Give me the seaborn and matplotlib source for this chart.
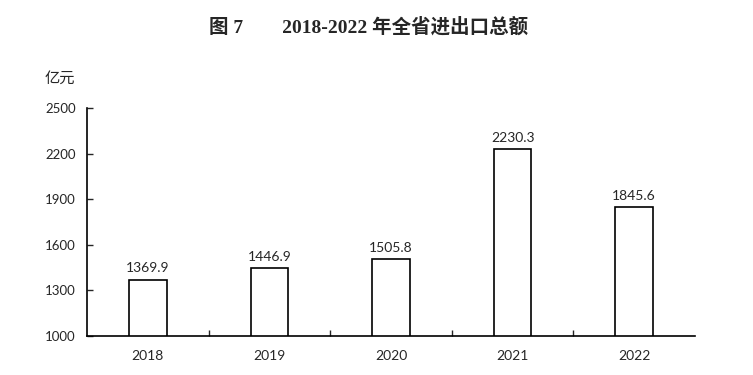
import matplotlib
matplotlib.use("Agg")
import matplotlib.pyplot as plt
import seaborn as sns
import pandas as pd
import numpy as np

# Chart data
years = ["2018", "2019", "2020", "2021", "2022"]
totals = [1369.9, 1446.9, 1505.8, 2230.3, 1845.6]
y_ticks = [1000, 1300, 1600, 1900, 2200, 2500]

data = pd.DataFrame({"year": years, "total": totals})

sns.set_style("white")
plt.rcParams["font.family"] = ["Lato", "Noto Sans CJK SC", "DejaVu Sans"]

fig = plt.figure(figsize=(7.53, 3.75), dpi=100)
ax = fig.add_axes([0.1155, 0.104, 0.8075, 0.608])

sns.barplot(data=data, x="year", y="total", color="white",
            edgecolor="black", linewidth=1.2, width=0.31, ax=ax)

ax.set_ylim(1000, 2500)
ax.set_xlim(-0.5, len(years) - 0.5)
ax.set_yticks(y_ticks)
ax.set_xlabel("")
ax.set_ylabel("")

# Value labels
for i, v in enumerate(totals):
    ax.text(i, v + 35, f"{v:.1f}", ha="center", va="bottom", fontsize=10)

# Spines and ticks
for s in ["top", "right"]:
    ax.spines[s].set_visible(False)
for s in ["left", "bottom"]:
    ax.spines[s].set_color("black")
    ax.spines[s].set_linewidth(1.2)

ax.tick_params(axis="y", direction="in", length=4, width=1, labelsize=9.5,
               pad=8, left=True)
ax.tick_params(axis="x", which="major", length=0, labelsize=10, pad=10)
ax.set_xticks(np.arange(0.5, len(years) - 0.5), minor=True)
ax.tick_params(axis="x", which="minor", direction="in", length=4, width=1,
               bottom=True)

fig.text(0.079, 0.79, "亿元", ha="center", va="center", fontsize=11,
         family=["Noto Sans CJK SC"])

fig.text(0.49, 0.928, "图 7        2018-2022 年全省进出口总额", ha="center",
         va="center", fontsize=14, fontweight="bold",
         family=["Liberation Serif", "Noto Sans CJK SC"])

fig.savefig("out.png", dpi=100)
